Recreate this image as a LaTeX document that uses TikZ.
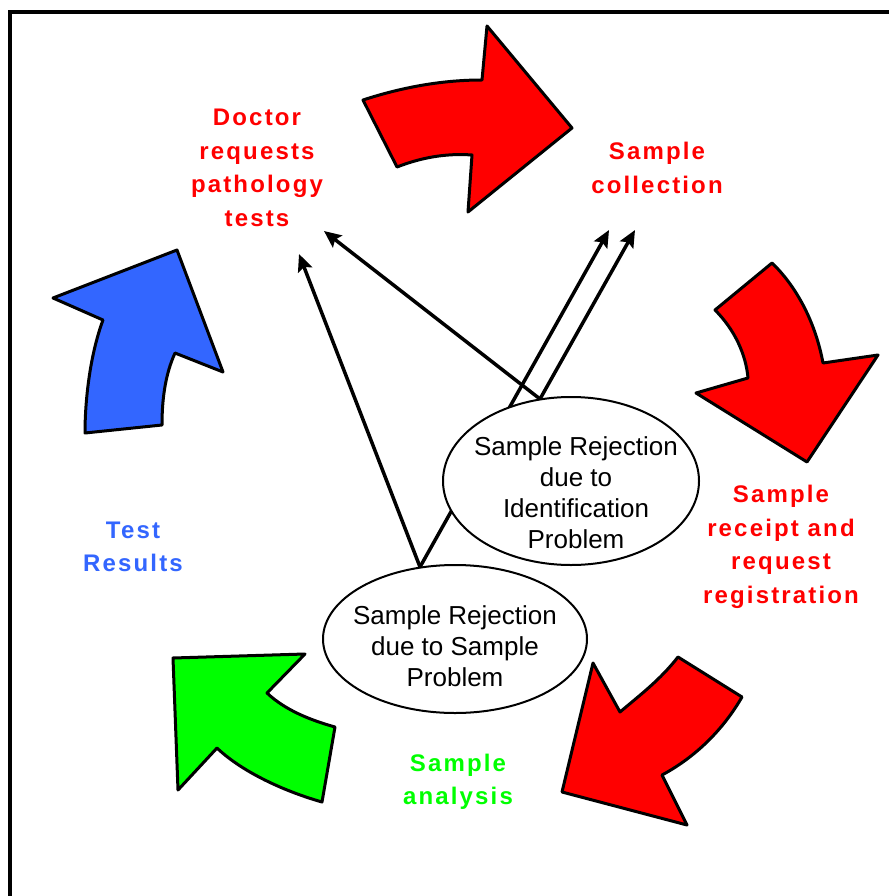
\documentclass[tikz,border=0pt]{standalone}
\usepackage{fontspec}
\setmainfont{Liberation Sans}
\newfontfamily\lblfont{Liberation Sans}[LetterSpace=9]
\usetikzlibrary{shapes.geometric,arrows.meta}
\definecolor{lblred}{HTML}{FF0000}
\definecolor{lblblue}{HTML}{3366FF}
\definecolor{lblgreen}{HTML}{00FF00}
\begin{document}
\begin{tikzpicture}[x=1pt,y=-1pt,
  redlbl/.style={font=\lblfont\bfseries\fontsize{24}{33.5}\selectfont, align=center, inner sep=0pt},
  ell/.style={draw, ellipse, fill=white, line width=2pt, inner sep=0pt},
  elltext/.style={font=\fontsize{26}{31}\selectfont, align=center, inner sep=0pt},
  conn/.style={line width=3.5pt, -{Stealth[length=17pt,width=15pt,inset=3pt]}},
  bigarrow/.style={draw=black, line width=3pt, line join=round}]
\useasboundingbox (0,0) rectangle (889,896);
\fill[white] (0,0) rectangle (889,896);
% frame
\draw[line width=4pt] (10,896) -- (10,12) -- (889,12);

% big arrows
\path[bigarrow, fill=lblred] (363,100) .. controls (400,88) and (440,80) .. (482,80) -- (487,26) -- (572,128) -- (468,212) -- (472,155) .. controls (445,153) and (420,158) .. (397,167) -- cycle;
\path[bigarrow, fill=lblred] (772,263) -- (715,310) .. controls (735,330) and (746,355) .. (748,378) -- (696,393) -- (807,462) -- (878,355) -- (823,363) .. controls (815,320) and (795,285) .. (772,263) -- cycle;
\path[bigarrow, fill=lblred] (593,663) -- (620,712) .. controls (640,695) and (660,680) .. (678,657) -- (742,697) .. controls (720,735) and (690,760) .. (662,775) -- (687,825) -- (562,792) -- cycle;
\path[bigarrow, fill=lblgreen] (173,658) -- (305,654) -- (267,693) .. controls (285,710) and (310,720) .. (335,727) -- (322,802) .. controls (280,790) and (240,770) .. (217,748) -- (178,790) -- cycle;
\path[bigarrow, fill=lblblue] (53,298) -- (177,250) -- (223,372) -- (175,353) .. controls (165,375) and (162,400) .. (162,425) -- (85,433) .. controls (85,400) and (90,355) .. (103,320) -- cycle;

% labels
\node[redlbl, text=lblred] (doctor) at (257,168) {Doctor\\requests\\pathology\\tests};
\node[redlbl, text=lblred] (collect) at (657,168) {Sample\\collection};
\node[redlbl, text=lblred] (receipt) at (781,547) {Sample\\receipt and\\request\\registration};
\node[redlbl, text=lblblue] (results) at (133,547) {Test\\Results};
\node[redlbl, text=lblgreen] (analysis) at (458,782) {Sample\\analysis};

% connector ends
\coordinate (e1top) at (540,399);
\coordinate (e2top) at (420,567);
\coordinate (tipA) at (324,231);
\coordinate (tipB) at (299,254);
\coordinate (tipC) at (609,230);
\coordinate (tipD) at (635,230);

\draw[conn] (e1top) -- (tipA);
\draw[conn] (e1top) -- (tipD);
\draw[conn] (e2top) -- (tipB);
\draw[conn] (e2top) -- (tipC);

% ellipses
\node[ell, minimum width=256pt, minimum height=168pt] (e1) at (571,481) {};
\node[elltext] (e1t) at (576,493) {Sample Rejection\\due to\\Identification\\Problem};
\node[ell, minimum width=264pt, minimum height=148pt] (e2) at (455,639) {};
\node[elltext] (e2t) at (455,646) {Sample Rejection\\due to Sample\\Problem};
\end{tikzpicture}
\end{document}
